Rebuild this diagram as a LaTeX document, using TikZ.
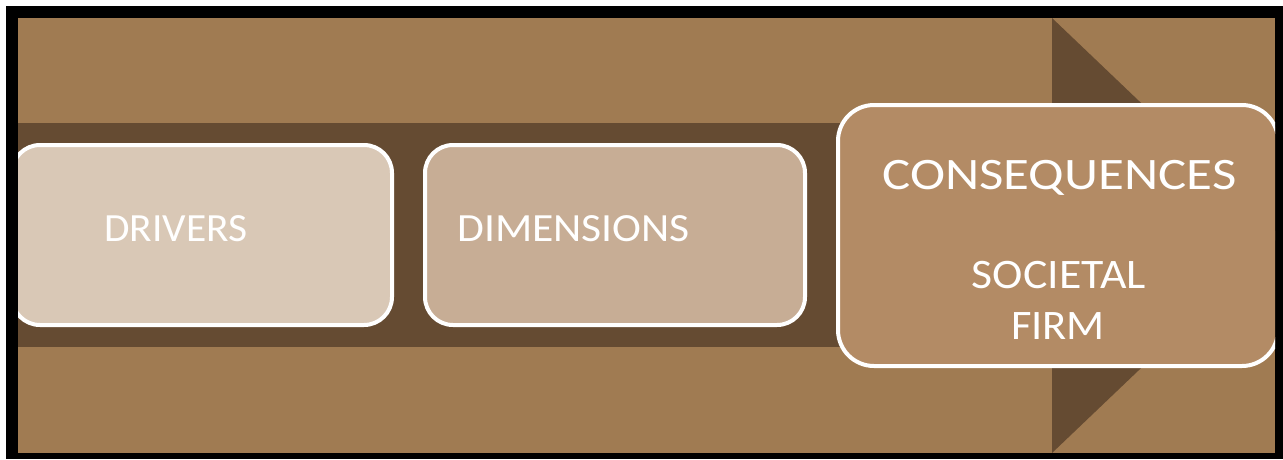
\documentclass[tikz,border=0pt]{standalone}
\usepackage{fontspec}
\setmainfont{Carlito}
\definecolor{bgbrown}{HTML}{A07B52}
\definecolor{band}{HTML}{654B32}
\definecolor{boxA}{HTML}{D9C8B6}
\definecolor{boxB}{HTML}{C7AD95}
\definecolor{boxC}{HTML}{B38B65}
\tikzset{
  stagebox/.style={draw=white, line width=4pt, inner sep=0pt, rectangle, rounded corners=#1},
  lbl/.style={text=white, anchor=base, inner sep=0pt},
}
\begin{document}
\begin{tikzpicture}[x=1pt,y=-1pt]
\useasboundingbox (0,0) rectangle (1283,459);
\fill[white] (0,0) rectangle (1283,459);
\fill[black] (6,6) rectangle (1283,459);
\begin{scope}
\clip (18,18) rectangle (1275,453);
\fill[bgbrown] (18,18) rectangle (1275,453);
\fill[band] (18,123) rectangle (1053,347);
\fill[band] (1052,18) -- (1280,235.5) -- (1052,453) -- cycle;
\node[stagebox=28pt, fill=boxA, minimum width=380pt, minimum height=180pt] (drivers) at (202,235) {};
\node[stagebox=28pt, fill=boxB, minimum width=380pt, minimum height=180pt] (dimensions) at (615,235) {};
\node[stagebox=36pt, fill=boxC, minimum width=440pt, minimum height=261pt] (consequences) at (1058,235.5) {};
\end{scope}
\node[lbl, font=\fontsize{40}{48}\selectfont] (tdrivers) at (176,241) {\scalebox{1.036}[1]{DRIVERS}};
\node[lbl, font=\fontsize{40}{48}\selectfont] (tdimensions) at (573.5,241) {\scalebox{1.09}[1]{DIMENSIONS}};
\node[lbl, font=\fontsize{45}{54}\selectfont] (tconsequences) at (1059.5,189) {\scalebox{1.177}[1]{CONSEQUENCES}};
\node[lbl, font=\fontsize{42}{50}\selectfont] (tsocietal) at (1059,288) {\scalebox{1.09}[1]{SOCIETAL}};
\node[lbl, font=\fontsize{42}{50}\selectfont] (tfirm) at (1058,339) {\scalebox{1.06}[1]{FIRM}};
\end{tikzpicture}
\end{document}
